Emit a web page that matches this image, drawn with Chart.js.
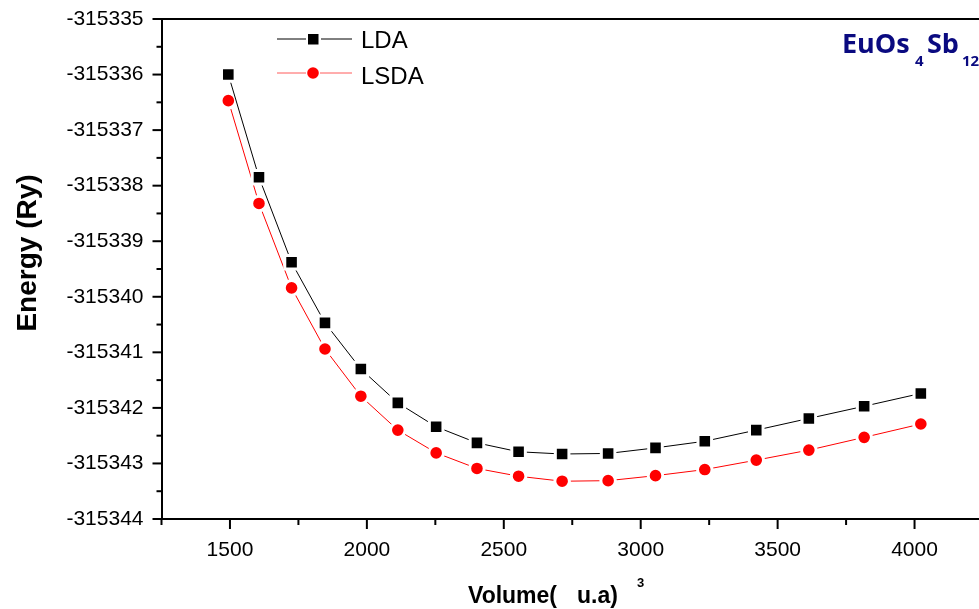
<!DOCTYPE html>
<html>
<head>
<meta charset="utf-8">
<script src="https://cdn.jsdelivr.net/npm/chart.js@4.4.1/dist/chart.umd.min.js"></script>
<style>
  body { margin: 0; overflow: hidden; background: #fff; }
  #wrap { width: 1000px; height: 609px; }
</style>
</head>
<body>
<div id="wrap"><canvas id="myChart" width="1000" height="609"></canvas></div>
<script>
// Volumes (u.a^3)
let volumes = [1494, 1606, 1725, 1847, 1978, 2113, 2253, 2402, 2554, 2713, 2881, 3054, 3234, 3422, 3614, 3816, 4023]
// Energies (Ry)
let ldaEnergy = [-315336.00, -315337.85, -315339.38, -315340.47, -315341.30, -315341.91, -315342.34, -315342.63, -315342.79,
  -315342.83, -315342.82, -315342.72, -315342.60, -315342.40, -315342.19, -315341.97, -315341.74]
let lsdaEnergy = [-315336.47, -315338.32, -315339.84, -315340.94, -315341.79, -315342.40, -315342.81, -315343.09, -315343.23,
  -315343.32, -315343.31, -315343.22, -315343.11, -315342.94, -315342.76, -315342.53, -315342.29]

let xRange = {"min": 1250, "max": 4250, "step": 250, "major": 500}
let yRange = {"min": -315344, "max": -315335, "step": 0.5}

let seriesNames = ["LDA", "LSDA"]

function toPoints(ys) {
  return volumes.map((v, i) => ({x: v, y: ys[i]}))
}

// draws ticks, frame, legend and labels the way Origin does
const extras = {
  id: 'extras',
  afterDraw(chart) {
    const ctx = chart.ctx
    const area = chart.chartArea
    const xs = chart.scales.x
    const ys = chart.scales.y
    ctx.save()
    ctx.strokeStyle = '#000'
    ctx.lineWidth = 2
    // top frame line
    ctx.beginPath()
    ctx.moveTo(area.left, area.top)
    ctx.lineTo(chart.width, area.top)
    ctx.stroke()
    // x ticks
    xs.ticks.forEach(t => {
      let px = xs.getPixelForValue(t.value)
      let len = t.value % xRange.major === 0 ? 10 : 6
      ctx.beginPath()
      ctx.moveTo(px, area.bottom)
      ctx.lineTo(px, area.bottom + len)
      ctx.stroke()
    })
    // y ticks
    ys.ticks.forEach(t => {
      let py = ys.getPixelForValue(t.value)
      let len = Number.isInteger(t.value) ? 9 : 5
      ctx.beginPath()
      ctx.moveTo(area.left, py)
      ctx.lineTo(area.left - len, py)
      ctx.stroke()
    })

    // legend
    ctx.lineWidth = 1
    ctx.strokeStyle = '#000'
    ctx.beginPath(); ctx.moveTo(277, 39); ctx.lineTo(306, 39); ctx.moveTo(321, 39); ctx.lineTo(352, 39); ctx.stroke()
    ctx.fillStyle = '#000'
    ctx.fillRect(308, 34, 10.5, 10.5)
    ctx.strokeStyle = '#ff5a5a'
    ctx.beginPath(); ctx.moveTo(277, 73); ctx.lineTo(306, 73); ctx.moveTo(320, 73); ctx.lineTo(352, 73); ctx.stroke()
    ctx.fillStyle = '#ff0000'
    ctx.beginPath(); ctx.arc(313, 73, 5.8, 0, Math.PI * 2); ctx.fill()
    ctx.fillStyle = '#000'
    ctx.font = '24px "Liberation Sans", Arial, sans-serif'
    ctx.textAlign = 'left'
    ctx.textBaseline = 'alphabetic'
    ctx.fillText(seriesNames[0], 361, 48)
    ctx.fillText(seriesNames[1], 361, 84)

    // compound name
    ctx.fillStyle = '#0a0a80'
    ctx.font = 'bold 27px "Open Sans", sans-serif'
    ctx.fillText('EuOs', 842, 53)
    ctx.font = 'bold 15px "Open Sans", sans-serif'
    ctx.fillText('4', 915, 66)
    ctx.font = 'bold 27px "Open Sans", sans-serif'
    ctx.fillText('Sb', 927, 53)
    ctx.font = 'bold 15px "Open Sans", sans-serif'
    ctx.fillText('12', 962, 66)

    // axis titles
    ctx.fillStyle = '#000'
    ctx.font = 'bold 23px "Liberation Sans", Arial, sans-serif'
    ctx.fillText('Volume(', 468, 603)
    ctx.fillText('u.a)', 577, 603)
    ctx.font = 'bold 13px "Liberation Sans", Arial, sans-serif'
    ctx.fillText('3', 637, 587)

    ctx.translate(36, 253)
    ctx.rotate(-Math.PI / 2)
    ctx.textAlign = 'center'
    ctx.font = 'bold 28px "Liberation Sans", Arial, sans-serif'
    ctx.fillText('Energy (Ry)', 0, 0)
    ctx.restore()
  }
}

const ctx = document.getElementById('myChart').getContext('2d')
const myChart = new Chart(ctx, {
  type: 'scatter',
  data: {
    datasets: [{
      label: seriesNames[0],
      data: toPoints(ldaEnergy),
      showLine: true,
      borderColor: '#000',
      borderWidth: 1,
      pointStyle: 'rect',
      pointRadius: 9.6,
      pointBackgroundColor: '#000',
      pointBorderColor: '#fff',
      pointBorderWidth: 3
    },
    {
      label: seriesNames[1],
      data: toPoints(lsdaEnergy),
      showLine: true,
      borderColor: '#ff0000',
      borderWidth: 1,
      pointStyle: 'circle',
      pointRadius: 7.3,
      pointBackgroundColor: '#ff0000',
      pointBorderColor: '#fff',
      pointBorderWidth: 3
    }]
  },
  options: {
    responsive: false,
    animation: false,
    devicePixelRatio: 1,
    layout: { padding: { top: 19, right: 17, left: 0, bottom: 0 } },
    plugins: {
      legend: { display: false },
      tooltip: { enabled: false }
    },
    scales: {
      x: {
        type: 'linear',
        min: xRange.min,
        max: xRange.max,
        afterFit: (s) => { s.height = 90; s.paddingLeft = 0; s.paddingRight = 0 },
        border: { display: true, color: '#000', width: 2 },
        grid: { drawOnChartArea: false, drawTicks: false },
        ticks: {
          stepSize: xRange.step,
          autoSkip: false,
          maxRotation: 0,
          padding: 19,
          color: '#000',
          font: { family: '"Liberation Sans", Arial, sans-serif', size: 21 },
          callback: (v) => v % xRange.major === 0 ? String(v) : ''
        }
      },
      y: {
        min: yRange.min,
        max: yRange.max,
        afterFit: (s) => { s.width = 161.5; s.paddingTop = 0; s.paddingBottom = 0 },
        border: { display: true, color: '#000', width: 2 },
        grid: { drawOnChartArea: false, drawTicks: false },
        ticks: {
          stepSize: yRange.step,
          autoSkip: false,
          padding: 18,
          color: '#000',
          font: { family: '"Liberation Sans", Arial, sans-serif', size: 21 },
          callback: (v) => Number.isInteger(v) ? String(v) : ''
        }
      }
    }
  },
  plugins: [extras]
})
</script>
</body>
</html>
